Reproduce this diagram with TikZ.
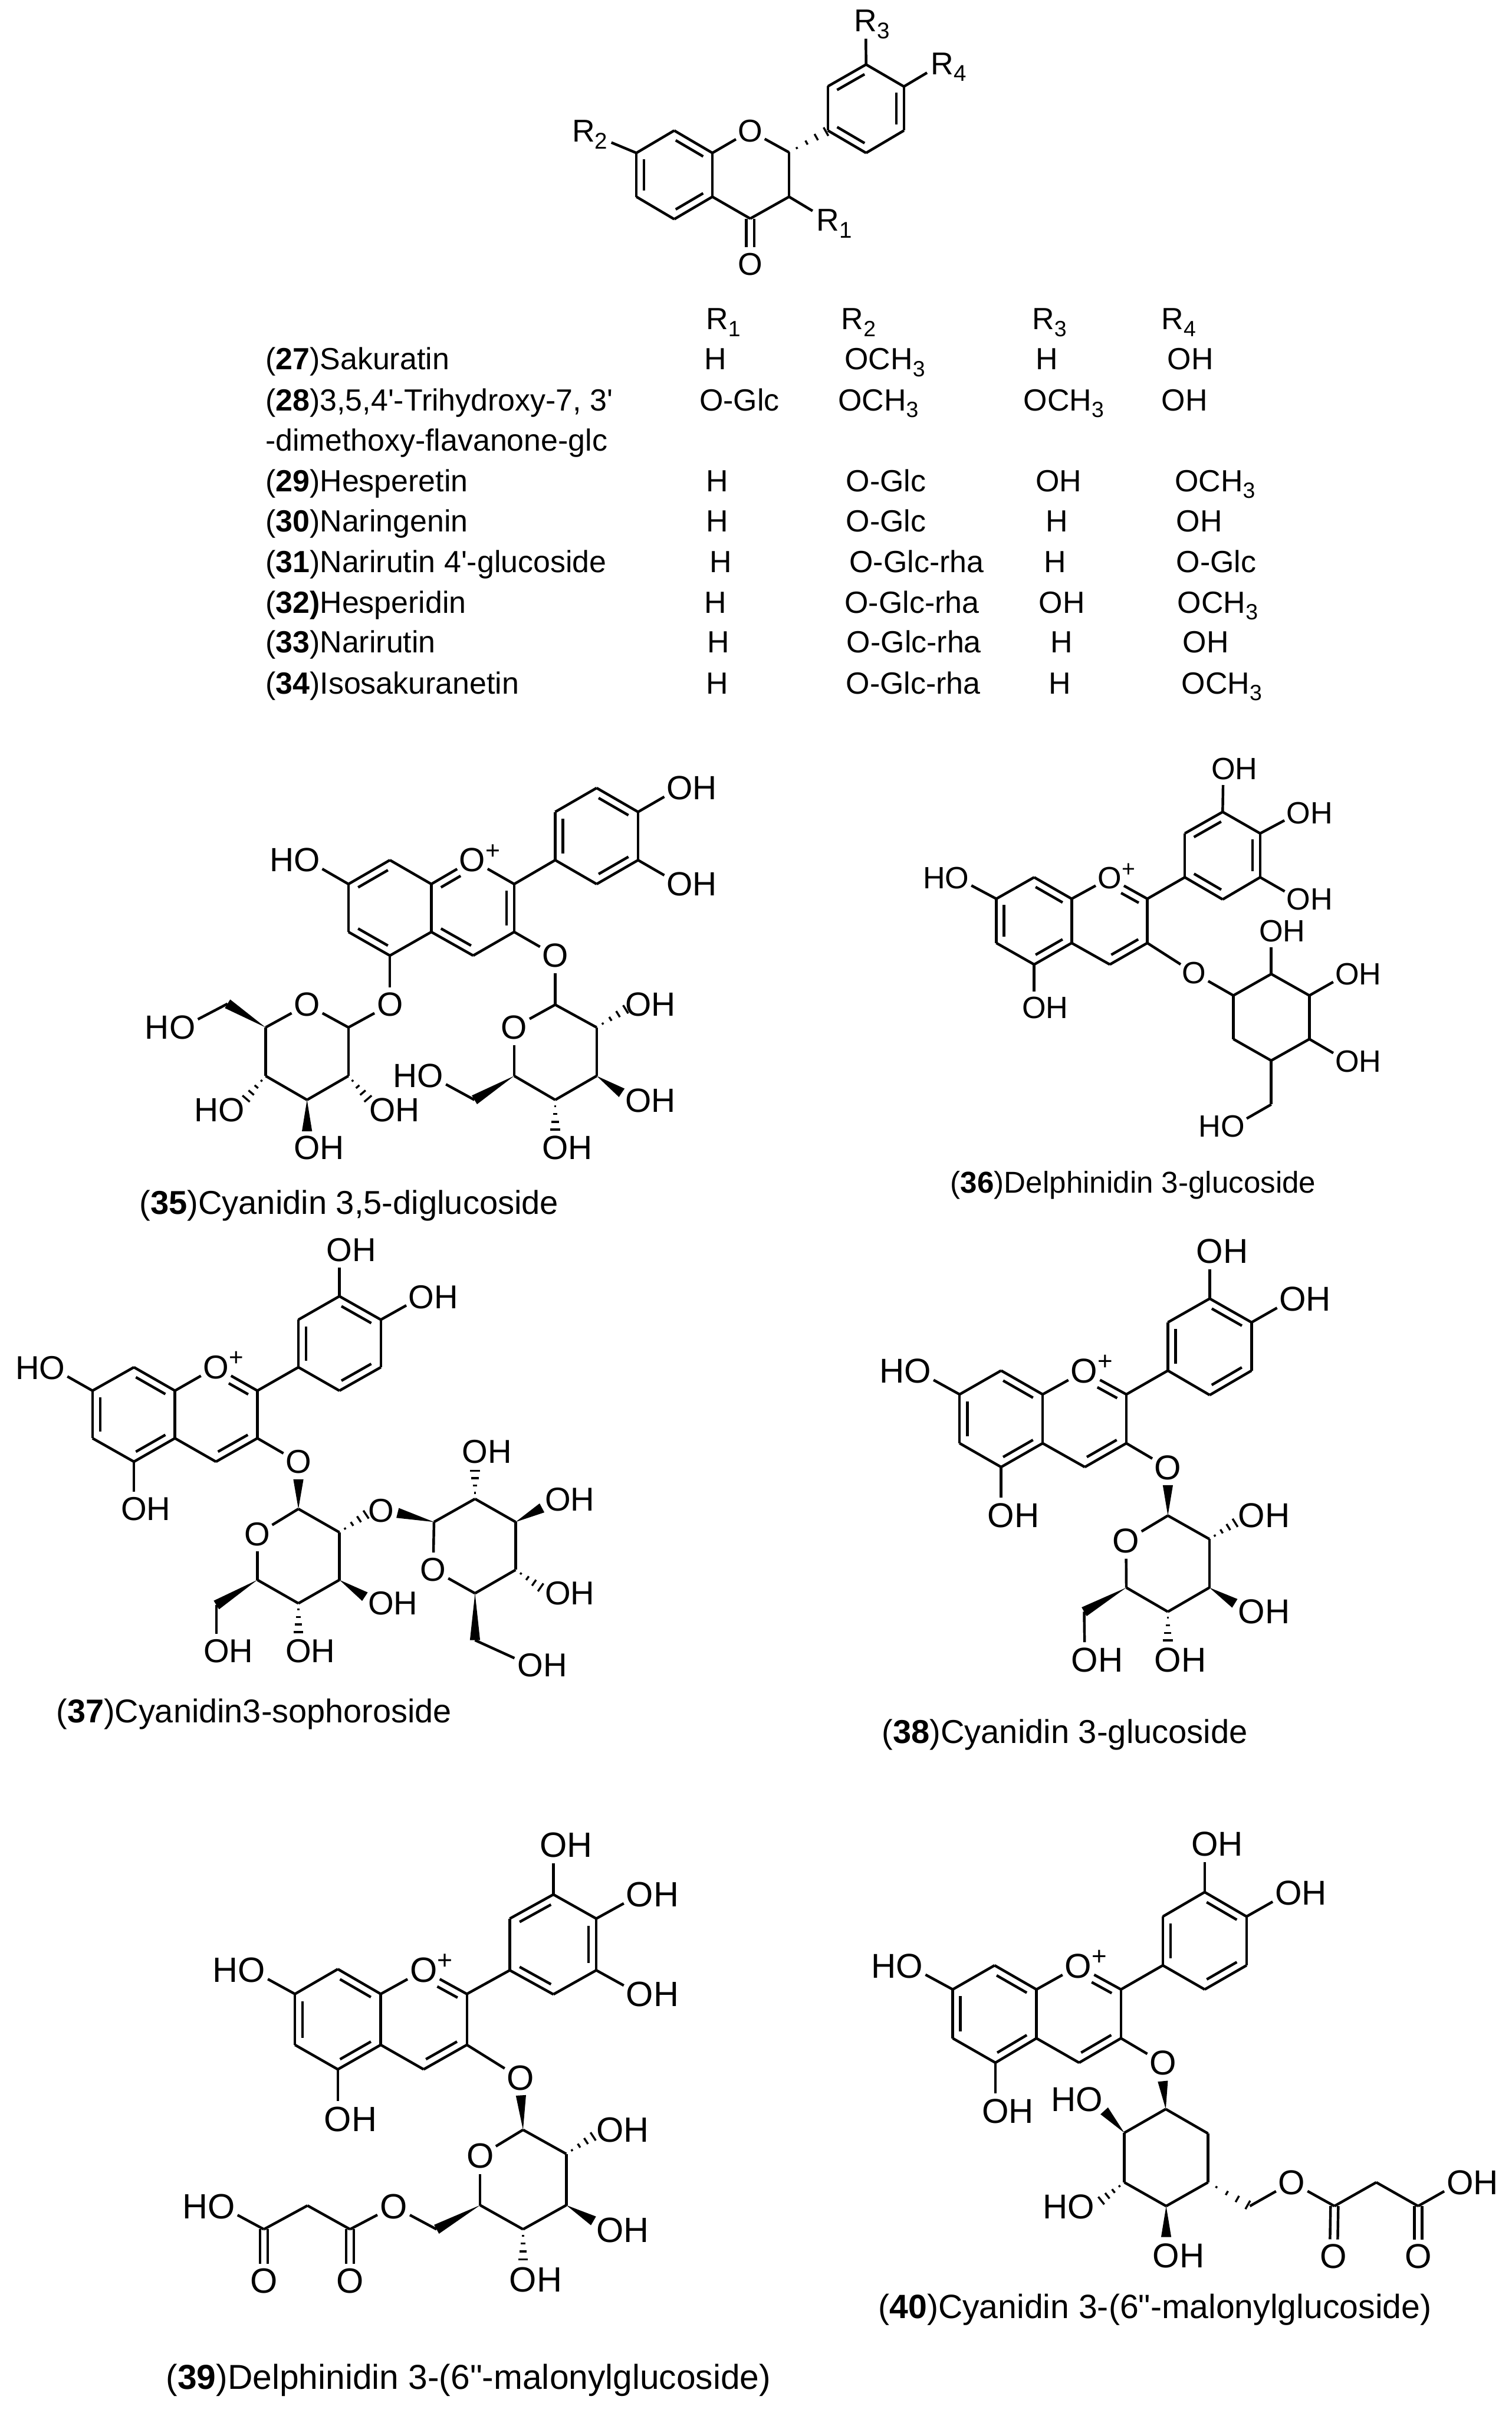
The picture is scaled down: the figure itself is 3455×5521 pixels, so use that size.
\documentclass[tikz,border=0pt]{standalone}
\usepackage{graphicx}
\usepackage{fontspec}
\setmainfont{Liberation Sans}[Ligatures=TeXOff]
\usetikzlibrary{calc}
\tikzset{
	crop/.style n args={5}{shift={(#1,#2)},x=#3/1568*0.01cm,y=-#4/1568*0.01cm,font=\fontsize{#5}{#5}\selectfont},
	bond/.style={line width=1.7pt,line join=round},
	atom/.style={circle,inner sep=0pt,outer sep=0pt},
	rgroup/.style={atom,inner sep=1pt},
	cell/.style={anchor=base west,inner sep=0pt}
}
\newcommand{\subs}[1]{\raisebox{-.22em}{\scalebox{.72}{#1}}}
\newcommand{\Rn}[1]{R\rlap{\smash{\subs{#1}}}}
\newcommand{\OHa}{O\rlap{H}}
\newcommand{\HOa}{\llap{H}O}
\newcommand{\Oplus}{O\rlap{\smash{\raisebox{.38em}{\scalebox{.75}{+}}}}}
\newcommand{\atoms}[1]{\foreach \n/\x/\y in {#1}{\coordinate (\n) at (\x,\y);}}
\newcommand{\labels}[1]{\foreach \n/\x/\y/\lab in {#1}{\node[atom] (\n) at (\x,\y) {\lab};}}
\newcommand{\bonds}[1]{\foreach \p/\q in {#1}{\draw[bond] (\p) -- (\q);}}
\newcommand{\dblx}[4]{\draw[bond] ($(#3)!#1!(#4)!5pt!-90:(#4)$) -- ($(#3)!#2!(#4)!5pt!-90:(#4)$);}
\newcommand{\dbl}[2]{\dblx{.14}{.86}{#1}{#2}}
\newcommand{\doubles}[1]{\foreach \p/\q in {#1}{\dbl{\p}{\q}}}
\newcommand{\pair}[2]{\draw[bond,shorten >=11pt] ($(#1)!2.5pt!90:(#2)$) -- ($(#2)!2.5pt!-90:(#1)$);
	\draw[bond,shorten >=11pt] ($(#1)!2.5pt!-90:(#2)$) -- ($(#2)!2.5pt!90:(#1)$);}
\newcommand{\boldw}[2]{\fill ($(#2)!3.3pt!90:(#1)$) -- (#1) -- ($(#2)!3.3pt!-90:(#1)$) -- cycle;}
\newcommand{\hashw}[2]{\foreach \s in {0.2,0.45,0.7,0.95}{\draw[line width=1.3pt] ($(#1)!\s!(#2)!\s*3.3pt!90:(#2)$) -- ($(#1)!\s!(#2)!\s*3.3pt!-90:(#2)$);}}
\newcommand{\skeleton}{\bonds{a7/a8,a8/a8a,a8a/a4a,a4a/a5,a5/a6,a6/a7,a8a/op,op/a2,a2/a3,a3/a4,a4/a4a,a2/b1,b1/b2,b2/b3,b3/b4,b4/b5,b5/b6,b6/b1}}
\newcommand{\flavdbl}{\doubles{a6/a7,a8/a8a,a4a/a5,a3/a4}\dblx{.4}{.87}{op}{a2}}
\begin{document}
\begin{tikzpicture}[x=0.01cm,y=-0.01cm]
	\useasboundingbox (0,0) rectangle (3455,5521);
	% Flavanone
	\begin{scope}[crop={1150}{0}{1200}{680}{20.5},name prefix=top-]
		\atoms{c7/398/806,c8/511/688,c8a/625/806,c2/854/803,c3/854/1037,c4/738/1152,c4a/625/1037,c5/511/1155,c6/398/1037,
			b1/970/688,b2/970/455,b3/1084/340,b4/1197/456,b5/1197/688,b6/1084/806}
		\labels{o1/738/690/O,o4/738/1392/O}
		\foreach \n/\x/\y/\lab in {r1/970/1160/1,r2/240/690/2,r3/1083/110/3,r4/1312/335/4}{\node[rgroup] (\n) at (\x,\y) {\Rn{\lab}};}
		\bonds{c7/c8,c8/c8a,c8a/c4a,c4a/c5,c5/c6,c6/c7,c8a/o1,o1/c2,c2/c3,c3/c4,c4/c4a,b1/b2,b2/b3,b3/b4,b4/b5,b5/b6,b6/b1,c3/r1,b3/r3,b4/r4}
		\draw[bond,shorten >=8pt] (c7) -- (r2);
		\doubles{c8/c8a,c4a/c5,c6/c7,b2/b3,b4/b5,b6/b1}
		\hashw{c2}{b1}
		\pair{c4}{o4}
	\end{scope}
	% Table
	\begin{scope}[crop={545}{661}{2400}{1000}{19.9},name prefix=tab-]
		\foreach \n/\x/\y/\lab in {
			h1/698/145/{\Rn{1}},h2/900/145/{\Rn{2}},h3/1185/145/{\Rn{3}},h4/1378/145/{\Rn{4}},
			n27/40/288/{(\textbf{27})Sakuratin},a27/695/288/H,b27/905/288/{OCH\subs{3}},c27/1190/288/H,d27/1387/288/OH,
			n28/40/435/{(\textbf{28})3,5,4'-Trihydroxy-7, 3'},a28/688/435/O-Glc,b28/895/435/{OCH\subs{3}},c28/1172/435/{OCH\subs{3}},d28/1378/435/OH,
			m28/40/580/{-dimethoxy-flavanone-glc},
			n29/40/725/{(\textbf{29})Hesperetin},a29/698/725/H,b29/907/725/O-Glc,c29/1190/725/OH,d29/1398/725/{OCH\subs{3}},
			n30/40/870/{(\textbf{30})Naringenin},a30/698/870/H,b30/907/870/O-Glc,c30/1205/870/H,d30/1400/870/OH,
			n31/40/1015/{(\textbf{31})Narirutin 4'-glucoside},a31/703/1015/H,b31/912/1015/O-Glc-rha,c31/1203/1015/H,d31/1400/1015/O-Glc,
			n32/40/1160/{(\textbf{32)}Hesperidin},a32/695/1160/H,b32/905/1160/O-Glc-rha,c32/1195/1160/OH,d32/1402/1160/{OCH\subs{3}},
			n33/40/1303/{(\textbf{33})Narirutin},a33/700/1303/H,b33/908/1303/O-Glc-rha,c33/1212/1303/H,d33/1410/1303/OH,
			n34/40/1450/{(\textbf{34})Isosakuranetin},a34/698/1450/H,b34/907/1450/O-Glc-rha,c34/1210/1450/H,d34/1408/1450/{OCH\subs{3}}
		}{\node[cell] (\n) at (\x,\y) {\lab};}
	\end{scope}
	% Cyanidin 3,5-diglucoside
	\begin{scope}[crop={300}{1680}{1500}{1100}{21.8},name prefix=m35-]
		\atoms{a7/519/485,a8/618/407,a8a/717/485,a2/915/485,a3/915/641,a4/817/718,a4a/717/641,a5/618/718,a6/519/641,
			b1/1013/407,b2/1013/250,b3/1112/172,b4/1211/250,b5/1211/407,b6/1112/485,
			s1/519/952,s5/321/952,s4/321/1110,s3/420/1188,s2/519/1110,s6/230/875,
			e4/272/1188,e2/568/1188,e3/420/1290,
			t1/1013/878,t5/915/1110,t4/1013/1188,t3/1112/1110,t2/1112/952,t6/820/1188,
			f2/1185/890,f3/1172/1165,f4/1013/1290}
		\labels{op/815/407/\Oplus,ho7/420/407/\HOa,oh4/1310/172/\OHa,oh3/1310/485/\OHa,
			ol5/618/878/O,os/420/878/O,ho6/122/952/\HOa,ho4/240/1222/\HOa,oh2/600/1222/\OHa,oh33/420/1345/\OHa,
			ol3/1013/718/O,ot/915/952/O,oh22/1212/878/\OHa,oh23/1212/1190/\OHa,oh24/1013/1345/\OHa,ho26/715/1110/\HOa}
		\skeleton
		\doubles{a7/a8,a5/a6,a2/a3,a4/a4a,b1/b2,b3/b4,b5/b6}
		\dblx{.14}{.62}{a8a}{op}
		\bonds{a7/ho7,b4/oh4,b5/oh3,a5/ol5,ol5/s1,s1/os,os/s5,s5/s4,s4/s3,s3/s2,s2/s1,s6/ho6,
			a3/ol3,ol3/t1,t1/ot,ot/t5,t5/t4,t4/t3,t3/t2,t2/t1,t6/ho26}
		\boldw{s5}{s6}\boldw{s3}{e3}\hashw{s4}{e4}\hashw{s2}{e2}
		\hashw{t2}{f2}\boldw{t3}{f3}\hashw{t4}{f4}\boldw{t5}{t6}
	\end{scope}
	\node[cell,font=\fontsize{21.5}{24}\selectfont] (cap35) at (318,2775) {(\textbf{35})Cyanidin 3,5-diglucoside};
	% Delphinidin 3-glucoside
	\begin{scope}[crop={2050}{1680}{1200}{1100}{20},name prefix=m36-]
		\atoms{a7/297/533,a8/410/463,a8a/522/533,a2/748/533,a3/748/677,a4/636/747,a4a/522/677,a5/410/747,a6/297/677,
			b1/860/463,b2/860/320,b3/973/250,b4/1085/320,b5/1085/463,b6/973/535,
			c1/1005/848,c2/1118/778,c3/1232/848,c4/1232/990,c5/1118/1060,c6/1005/990,c7/1118/1203}
		\labels{op/636/465/\Oplus,ho7/180/465/\HOa,oh5/410/888/\OHa,oh3/975/110/\OHa,oh4/1200/253/\OHa,oh55/1200/535/\OHa,
			ol/888/775/O,oa/1118/638/\OHa,ob/1345/778/\OHa,oc/1345/1062/\OHa,od/1003/1275/\HOa}
		\skeleton
		\flavdbl
		\doubles{b2/b3,b4/b5,b6/b1}
		\bonds{a7/ho7,a5/oh5,b3/oh3,b4/oh4,b5/oh55,a3/ol,ol/c1,c1/c2,c2/c3,c3/c4,c4/c5,c5/c6,c6/c1,c2/oa,c3/ob,c4/oc,c5/c7,c7/od}
	\end{scope}
	\node[cell,font=\fontsize{19.6}{24}\selectfont] (cap36) at (2172,2726) {(\textbf{36})Delphinidin 3-glucoside};
	% Cyanidin 3-sophoroside
	\begin{scope}[crop={0}{2780}{1500}{1200}{21.5},name prefix=m37-]
		\atoms{a7/221/520,a8/320/450,a8a/418/520,a2/615/520,a3/615/662,a4/516/732,a4a/418/662,a5/320/732,a6/221/662,
			b1/713/450,b2/713/308,b3/811/238,b4/910/308,b5/910/450,b6/811/520,
			t1/713/873,t5/615/1085,t4/713/1155,t3/811/1085,t2/811/943,t6/517/1160,
			e1/713/785,e2/878/887,e3/872/1135,e4/713/1245,
			u1/1037/912,u5/1135/1125,u4/1232/1055,u3/1232/912,u2/1135/843,u6/1135/1265,
			f1/950/885,f2/1135/755,f3/1295/870,f4/1295/1110}
		\labels{op/516/450/\Oplus,ho7/125/452/\HOa,oh3/811/100/\OHa,oh4/1007/240/\OHa,oh5/320/873/\OHa,
			ol/713/733/O,ot/615/948/O,og/910/878/O,oa/910/1155/\OHa,ob/713/1297/\OHa,oc/517/1297/\OHa,
			ou/1035/1055/O,od/1135/703/\OHa,oe/1333/845/\OHa,of/1333/1125/\OHa,oi/1267/1340/\OHa}
		\skeleton
		\flavdbl
		\doubles{b1/b2,b3/b4,b5/b6}
		\bonds{a7/ho7,b3/oh3,b4/oh4,a5/oh5,a3/ol,t1/ot,ot/t5,t5/t4,t4/t3,t3/t2,t2/t1,t6/oc,u1/ou,ou/u5,u5/u4,u4/u3,u3/u2,u2/u1,u6/oi}
		\boldw{t1}{e1}\hashw{t2}{e2}\boldw{t3}{e3}\hashw{t4}{e4}\boldw{t5}{t6}
		\boldw{u1}{f1}\hashw{u2}{f2}\boldw{u3}{f3}\hashw{u4}{f4}\boldw{u5}{u6}
	\end{scope}
	\node[cell,font=\fontsize{21.4}{24}\selectfont] (cap37) at (128,3936) {(\textbf{37})Cyanidin3-sophoroside};
	% Cyanidin 3-glucoside
	\begin{scope}[crop={1950}{2780}{1200}{1200}{22.4},name prefix=m38-]
		\atoms{a7/318/531,a8/442/460,a8a/566/531,a2/816/531,a3/816/677,a4/692/748,a4a/566/677,a5/442/748,a6/318/677,
			b1/940/460,b2/940/316,b3/1065/245,b4/1190/316,b5/1190/460,b6/1065/533,
			t1/940/893,t5/816/1108,t4/940/1180,t3/1064/1108,t2/1064/963,t6/690/1180,
			e1/940/802,e2/1145/912,e3/1140/1155,e4/940/1270}
		\labels{op/690/462/\Oplus,ho7/193/462/\HOa,oh3/1065/103/\OHa,oh4/1313/246/\OHa,oh5/442/893/\OHa,
			ol/940/750/O,ot/815/968/O,oa/1190/893/\OHa,ob/1190/1180/\OHa,oc/940/1325/\OHa,od/692/1325/\OHa}
		\skeleton
		\flavdbl
		\doubles{b1/b2,b3/b4,b5/b6}
		\bonds{a7/ho7,b3/oh3,b4/oh4,a5/oh5,a3/ol,t1/ot,ot/t5,t5/t4,t4/t3,t3/t2,t2/t1,t6/od}
		\boldw{t1}{e1}\hashw{t2}{e2}\boldw{t3}{e3}\hashw{t4}{e4}\boldw{t5}{t6}
	\end{scope}
	\node[cell,font=\fontsize{21.5}{24}\selectfont] (cap38) at (2015,3983) {(\textbf{38})Cyanidin 3-glucoside};
	% Delphinidin 3-(6''-malonylglucoside)
	\begin{scope}[crop={380}{4150}{1250}{1371}{22.8},name prefix=m39-]
		\atoms{a7/369/465,a8/492/400,a8a/615/465,a2/862/465,a3/862/598,a4/738/662,a4a/615/598,a5/492/662,a6/369/598,
			b1/985/403,b2/985/268,b3/1110/205,b4/1233/268,b5/1233/403,b6/1110/466,
			t1/1023/820,t5/900/1017,t4/1023/1080,t3/1147/1017,t2/1147/883,t6/775/1080,
			e1/1017/730,e2/1228/835,e3/1225/1058,e4/1023/1163,
			k1/527/1080,k2/405/1018,k3/280/1080}
		\labels{op/738/403/\Oplus,ho7/245/403/\HOa,oh3/1110/75/\OHa,oh4/1358/205/\OHa,oh55/1358/466/\OHa,oh5/492/793/\OHa,
			ol/1015/685/O,ot/900/888/O,oa/1272/820/\OHa,ob/1272/1082/\OHa,oc/1023/1212/\OHa,
			oe/652/1020/O,oo/527/1215/O,op2/280/1215/O,hok/158/1020/\HOa}
		\skeleton
		\flavdbl
		\doubles{b2/b3,b4/b5,b6/b1}
		\bonds{a7/ho7,b3/oh3,b4/oh4,b5/oh55,a5/oh5,a3/ol,t1/ot,ot/t5,t5/t4,t4/t3,t3/t2,t2/t1,t6/oe,oe/k1,k1/k2,k2/k3,k3/hok}
		\boldw{t1}{e1}\hashw{t2}{e2}\boldw{t3}{e3}\hashw{t4}{e4}\boldw{t5}{t6}
		\pair{k1}{oo}\pair{k3}{op2}
	\end{scope}
	\node[cell,font=\fontsize{22.5}{24}\selectfont] (cap39) at (379,5460) {(\textbf{39})Delphinidin 3-(6"-malonylglucoside)};
	% Cyanidin 3-(6''-malonylglucoside)
	\begin{scope}[crop={1950}{4150}{1500}{1250}{22.4},name prefix=m40-]
		\atoms{a7/238/497,a8/338/428,a8a/438/497,a2/640/497,a3/640/637,a4/540/707,a4a/438/637,a5/340/707,a6/238/637,
			b1/740/428,b2/740/288,b3/840/218,b4/940/288,b5/940/428,b6/840/497,
			c1/747/840,c2/848/910,c3/848/1050,c4/748/1118,c5/648/1050,c6/648/908,c7/948/1118,
			e1/740/760,e6/600/845,e5/590/1105,e4/748/1207,
			k1/1150/1118,k2/1250/1050,k3/1350/1118}
		\labels{op/538/430/\Oplus,ho7/135/430/\HOa,oh3/840/80/\OHa,oh4/1040/220/\OHa,oh5/340/847/\OHa,
			ol/740/708/O,oa/565/812/\HOa,ob/545/1120/\HOa,oc/748/1260/\OHa,
			oe/1048/1050/O,oo/1148/1262/O,op2/1350/1262/O,ohk/1450/1050/\OHa}
		\skeleton
		\flavdbl
		\doubles{b1/b2,b3/b4,b5/b6}
		\bonds{a7/ho7,b3/oh3,b4/oh4,a5/oh5,a3/ol,c1/c2,c2/c3,c3/c4,c4/c5,c5/c6,c6/c1,c7/oe,oe/k1,k1/k2,k2/k3,k3/ohk}
		\boldw{c1}{e1}\boldw{c6}{e6}\hashw{c5}{e5}\boldw{c4}{e4}\hashw{c3}{c7}
		\pair{k1}{oo}\pair{k3}{op2}
	\end{scope}
	\node[cell,font=\fontsize{21.9}{24}\selectfont] (cap40) at (2007,5298) {(\textbf{40})Cyanidin 3-(6"-malonylglucoside)};
\end{tikzpicture}
\end{document}
